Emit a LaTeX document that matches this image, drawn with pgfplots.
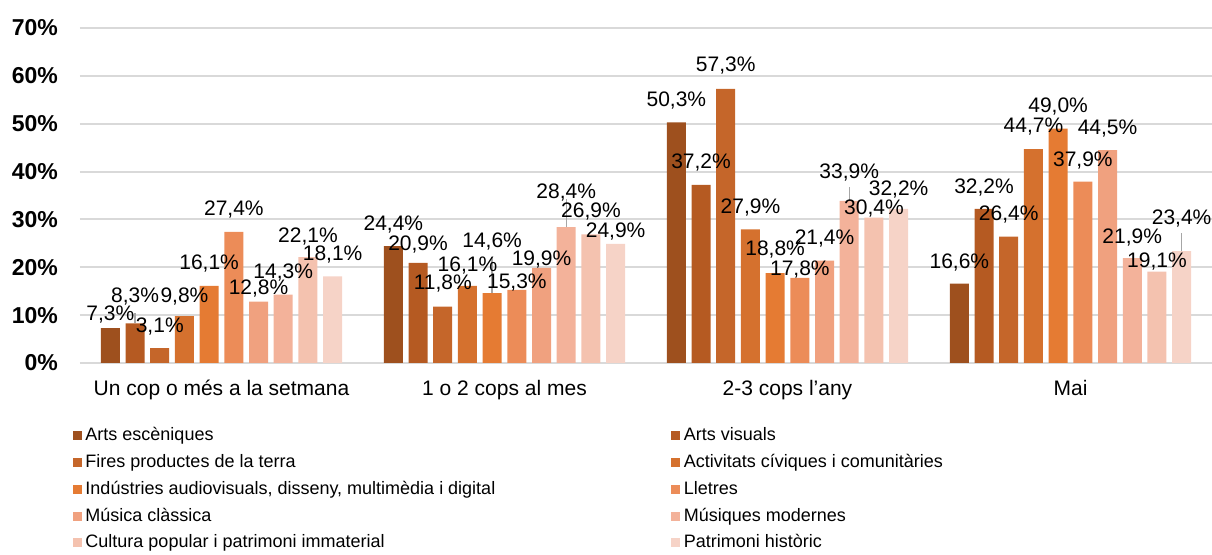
\documentclass[border=0pt]{standalone}
\usepackage{fontspec}
\setmainfont{Liberation Sans}
\usepackage{pgfplots}
\usepackage{pgfplotstable}
\pgfplotsset{compat=1.18}
\definecolor{c1}{HTML}{9E501E}
\definecolor{c2}{HTML}{B55A22}
\definecolor{c3}{HTML}{C5662A}
\definecolor{c4}{HTML}{D5712E}
\definecolor{c5}{HTML}{E57B33}
\definecolor{c6}{HTML}{EC8C58}
\definecolor{c7}{HTML}{F0A17F}
\definecolor{c8}{HTML}{F3B29A}
\definecolor{c9}{HTML}{F4C2AF}
\definecolor{c10}{HTML}{F6D3C7}
\definecolor{gridc}{HTML}{D9D9D9}
\definecolor{leader}{HTML}{A6A6A6}
% values (%), label lift above bar top (pt), leader-line length (%)
\pgfplotstableread{
x s1 s2 s3 s4 s5 s6 s7 s8 s9 s10 u1 u2 u3 u4 u5 u6 u7 u8 u9 u10 e1 e2 e3 e4 e5 e6 e7 e8 e9 e10
0 7.3 8.3 3.1 9.8 16.1 27.4 12.8 14.3 22.1 18.1 7 13.5 11 10 11 11.3 6.5 11 10.5 11 0 2.2 0 0 0 0 0 0 0 0
1 24.4 20.9 11.8 16.1 14.6 15.3 19.9 28.4 26.9 24.9 11 9 11.3 10.3 25.8 3.5 4 17.5 11.5 6 0 0 0 0 7.5 0 0 5.8 0 0
2 50.3 37.2 57.3 27.9 18.8 17.8 21.4 33.9 30.4 32.2 11 11 11.5 10.8 11.7 4 11.2 14 4.3 9.5 0 0 0 0 0 0 0 2.9 0 0
3 16.6 32.2 26.4 44.7 49.0 37.9 44.5 21.9 19.1 23.4 10.5 10.7 11 11.5 11 10.5 10.5 10.5 5 16.5 0 0 0 0 0 0 0 0 0 3.8
}\data
\pgfplotsset{
  lbl/.style 2 args={ybar, bar shift=#1, fill=none, draw=none, forget plot,
    point meta=y,
    nodes near coords={\pgfmathprintnumber[fixed,fixed zerofill,precision=1,use comma,assume math mode=true]{\pgfplotspointmeta}\%},
    visualization depends on={\thisrow{u#2} \as \up},
    every node near coord/.style={font=\fontsize{10.5}{12}\selectfont, anchor=center, inner sep=0pt, xshift=#1, yshift=\up pt, text=black},
    error bars/.cd, y dir=plus, y explicit, error mark=none,
    error bar style={color=leader, line width=0.7pt}},
}
\begin{document}
\begin{tikzpicture}
\useasboundingbox (-40pt,-96pt) rectangle (566pt,181.5pt);
\begin{axis}[
  at={(0,0)}, anchor=south west,
  scale only axis, width=566pt, height=167.5pt,
  xmin=-0.5, xmax=3.5, ymin=0, ymax=70, enlargelimits=false,
  ybar, bar width=9.5pt,
  axis line style={draw=none},
  major tick length=0pt,
  ytick={0,10,...,70},
  yticklabel={\pgfmathprintnumber[assume math mode=true]{\tick}\%},
  yticklabel style={font=\fontsize{11.5}{13}\selectfont\bfseries, xshift=-7.5pt},
  xtick={0,1,2,3},
  xticklabels={Un cop o més a la setmana, 1 o 2 cops al mes, 2-3 cops l’any, Mai},
  xticklabel style={font=\fontsize{10.5}{12}\selectfont, yshift=-5pt},
  ymajorgrids, grid style={draw=gridc, line width=1pt},
  legend columns=2,
  legend cell align=left,
  legend image code/.code={\fill[#1,draw=none] (0pt,-2.25pt) rectangle (4.5pt,2.25pt);},
  legend style={draw=none, fill=none, inner sep=0pt, outer sep=0pt,
    at={(-0.0062,-0.190)}, anchor=north west,
    font=\fontsize{9}{10}\selectfont,
    row sep=4.4pt, column sep=1.75pt,
    nodes={inner sep=0pt, text height=7pt, text depth=2pt},
    /tikz/column 2/.style={column sep=88pt}},
]
\addplot[ybar, bar shift=-55.575pt, fill=c1, draw=none] table[x=x,y=s1]{\data};
\addlegendentry{Arts escèniques}
\addplot[ybar, bar shift=-43.225pt, fill=c2, draw=none] table[x=x,y=s2]{\data};
\addlegendentry{Arts visuals}
\addplot[ybar, bar shift=-30.875pt, fill=c3, draw=none] table[x=x,y=s3]{\data};
\addlegendentry{Fires productes de la terra}
\addplot[ybar, bar shift=-18.525pt, fill=c4, draw=none] table[x=x,y=s4]{\data};
\addlegendentry{Activitats cíviques i comunitàries}
\addplot[ybar, bar shift=-6.175pt, fill=c5, draw=none] table[x=x,y=s5]{\data};
\addlegendentry{Indústries audiovisuals, disseny, multimèdia i digital}
\addplot[ybar, bar shift=6.175pt, fill=c6, draw=none] table[x=x,y=s6]{\data};
\addlegendentry{Lletres}
\addplot[ybar, bar shift=18.525pt, fill=c7, draw=none] table[x=x,y=s7]{\data};
\addlegendentry{Música clàssica}
\addplot[ybar, bar shift=30.875pt, fill=c8, draw=none] table[x=x,y=s8]{\data};
\addlegendentry{Músiques modernes}
\addplot[ybar, bar shift=43.225pt, fill=c9, draw=none] table[x=x,y=s9]{\data};
\addlegendentry{Cultura popular i patrimoni immaterial}
\addplot[ybar, bar shift=55.575pt, fill=c10, draw=none] table[x=x,y=s10]{\data};
\addlegendentry{Patrimoni històric}
% labels and leader lines on top of all bars
\addplot[lbl={-55.575pt}{1}] table[x=x,y=s1,y error=e1]{\data};
\addplot[lbl={-43.225pt}{2}] table[x=x,y=s2,y error=e2]{\data};
\addplot[lbl={-30.875pt}{3}] table[x=x,y=s3,y error=e3]{\data};
\addplot[lbl={-18.525pt}{4}] table[x=x,y=s4,y error=e4]{\data};
\addplot[lbl={-6.175pt}{5}] table[x=x,y=s5,y error=e5]{\data};
\addplot[lbl={6.175pt}{6}] table[x=x,y=s6,y error=e6]{\data};
\addplot[lbl={18.525pt}{7}] table[x=x,y=s7,y error=e7]{\data};
\addplot[lbl={30.875pt}{8}] table[x=x,y=s8,y error=e8]{\data};
\addplot[lbl={43.225pt}{9}] table[x=x,y=s9,y error=e9]{\data};
\addplot[lbl={55.575pt}{10}] table[x=x,y=s10,y error=e10]{\data};
\end{axis}
\end{tikzpicture}
\end{document}
